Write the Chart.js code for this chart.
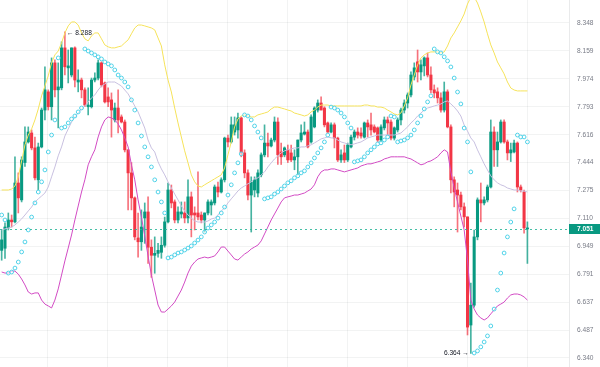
<!DOCTYPE html>
<html><head><meta charset="utf-8">
<script src="https://cdn.jsdelivr.net/npm/chart.js@4.4.1/dist/chart.umd.min.js"></script>
<style>html,body{margin:0;padding:0;background:#fff;overflow:hidden}#wrap{width:600px;height:367px}</style>
</head><body><div id="wrap"><canvas id="c" width="600" height="367"></canvas></div>
<script>
// ---- data (one entry per candle) ----
const openP=[6.926,6.938,7.055,7.101,7.090,7.320,7.219,7.444,7.571,7.627,
7.534,7.339,7.540,7.772,7.889,7.793,8.079,7.902,7.915,8.179,
8.046,7.999,8.179,7.953,7.966,7.902,7.793,7.793,7.966,7.979,
8.079,7.947,7.856,7.837,7.709,7.785,7.728,7.696,7.522,7.381,
7.231,6.997,6.975,7.113,7.148,6.944,6.898,6.909,6.915,6.955,
7.090,7.278,7.207,7.101,7.136,7.142,7.113,7.237,7.142,7.142,
7.130,7.101,7.142,7.189,7.201,7.296,7.266,7.339,7.595,7.571,
7.633,7.646,7.722,7.503,7.381,7.248,7.278,7.260,7.369,7.491,
7.564,7.546,7.583,7.696,7.509,7.491,7.522,7.503,7.460,7.479,
7.583,7.620,7.633,7.571,7.665,7.772,7.817,7.785,7.690,7.633,
7.678,7.595,7.460,7.503,7.460,7.540,7.601,7.633,7.627,7.601,
7.690,7.678,7.665,7.659,7.583,7.659,7.709,7.696,7.595,7.646,
7.709,7.772,7.817,7.869,7.986,8.086,8.019,8.059,8.112,7.999,
7.902,7.889,7.850,7.772,7.889,7.665,7.339,7.278,7.248,7.178,
7.119,6.514,6.621,7.003,7.219,7.201,7.219,7.296,7.633,7.522,
7.571,7.696,7.571,7.503,7.509,7.564,7.296,7.266,7.049];
const highP=[7.043,7.084,7.142,7.130,7.479,7.381,7.479,7.665,7.665,7.646,
7.601,7.564,7.785,8.053,7.902,8.112,8.099,8.079,8.220,8.288,
8.165,8.179,8.186,8.033,7.979,7.915,7.915,7.979,8.013,8.099,
8.086,7.953,7.915,7.882,7.817,7.902,7.741,7.709,7.522,7.444,
7.237,7.142,7.160,7.201,7.237,6.986,7.003,6.966,7.003,7.118,
7.320,7.308,7.219,7.178,7.207,7.207,7.339,7.266,7.178,7.388,
7.148,7.142,7.219,7.219,7.308,7.326,7.351,7.601,7.614,7.728,
7.728,7.753,7.728,7.522,7.400,7.357,7.357,7.400,7.503,7.678,
7.627,7.595,7.728,7.722,7.564,7.540,7.552,7.552,7.522,7.583,
7.678,7.696,7.646,7.741,7.793,7.837,7.856,7.793,7.696,7.690,
7.690,7.601,7.522,7.552,7.564,7.614,7.646,7.659,7.659,7.696,
7.709,7.753,7.678,7.665,7.678,7.728,7.728,7.709,7.665,7.722,
7.785,7.837,7.882,8.019,8.079,8.165,8.099,8.119,8.145,8.053,
7.934,7.915,7.882,7.953,7.902,7.678,7.357,7.320,7.266,7.201,
7.119,6.743,7.043,7.231,7.320,7.237,7.308,7.709,7.665,7.633,
7.709,7.709,7.583,7.564,7.583,7.571,7.308,7.278,7.090];
const lowP=[6.870,6.881,7.043,7.060,7.084,7.142,7.207,7.420,7.564,7.522,
7.339,7.278,7.534,7.709,7.772,7.709,7.856,7.659,7.902,7.999,
7.947,7.986,7.921,7.889,7.850,7.793,7.741,7.785,7.953,7.966,
7.921,7.817,7.793,7.601,7.696,7.627,7.690,7.509,7.160,7.160,
6.986,6.887,6.926,6.966,6.852,6.774,6.797,6.887,6.881,6.944,
7.084,7.172,7.084,7.084,7.113,7.084,7.084,7.003,7.043,7.101,
7.084,7.031,7.130,7.130,7.189,7.237,7.260,7.326,7.540,7.564,
7.614,7.595,7.479,7.351,7.219,7.031,7.237,7.237,7.357,7.479,
7.479,7.540,7.571,7.432,7.432,7.479,7.444,7.450,7.400,7.369,
7.571,7.614,7.534,7.564,7.659,7.759,7.772,7.665,7.627,7.627,
7.534,7.450,7.444,7.444,7.450,7.534,7.583,7.595,7.595,7.595,
7.601,7.614,7.627,7.571,7.571,7.646,7.614,7.583,7.583,7.633,
7.678,7.753,7.785,7.856,7.966,7.953,7.966,7.993,7.986,7.882,
7.850,7.817,7.759,7.759,7.659,7.260,7.178,7.031,7.160,7.060,
6.461,6.364,6.610,6.986,7.090,7.189,7.207,7.290,7.420,7.420,
7.564,7.564,7.460,7.450,7.503,7.266,7.266,7.025,6.852];
const closeP=[6.986,7.060,7.101,7.090,7.320,7.231,7.460,7.571,7.633,7.534,
7.351,7.540,7.772,7.902,7.793,8.079,7.902,7.921,8.179,8.053,
8.059,8.179,7.966,7.966,7.902,7.804,7.804,7.966,7.979,8.079,
7.934,7.824,7.824,7.772,7.785,7.709,7.696,7.522,7.381,7.231,
7.003,6.975,7.060,7.148,6.944,6.898,6.909,6.926,6.955,7.090,
7.278,7.201,7.101,7.148,7.148,7.113,7.237,7.130,7.130,7.119,
7.101,7.142,7.207,7.207,7.296,7.266,7.339,7.595,7.571,7.678,
7.678,7.722,7.503,7.381,7.248,7.326,7.339,7.381,7.491,7.564,
7.546,7.583,7.696,7.491,7.479,7.534,7.460,7.460,7.479,7.583,
7.627,7.633,7.540,7.728,7.785,7.817,7.772,7.678,7.633,7.678,
7.595,7.460,7.491,7.460,7.552,7.601,7.633,7.614,7.608,7.690,
7.665,7.646,7.633,7.583,7.665,7.709,7.690,7.595,7.659,7.709,
7.772,7.817,7.869,7.999,8.046,8.019,8.066,8.112,7.999,7.902,
7.882,7.850,7.772,7.889,7.665,7.339,7.266,7.248,7.178,7.119,
6.503,6.621,7.003,7.219,7.201,7.219,7.296,7.633,7.522,7.571,
7.696,7.571,7.503,7.522,7.564,7.296,7.278,7.055,7.051];
const bbUpper=[7.278,7.278,7.278,7.284,7.302,7.357,7.454,7.553,7.614,7.652,
7.709,7.779,7.863,7.927,7.993,8.079,8.132,8.158,8.213,8.280,
8.328,8.355,8.355,8.334,8.280,8.240,8.226,8.260,8.280,8.280,
8.240,8.199,8.186,8.179,8.179,8.186,8.192,8.213,8.233,8.274,
8.314,8.334,8.334,8.328,8.321,8.314,8.301,8.246,8.192,8.066,
7.966,7.888,7.785,7.690,7.602,7.516,7.442,7.369,7.327,7.302,
7.296,7.309,7.321,7.333,7.345,7.357,7.369,7.411,7.491,7.571,
7.665,7.715,7.734,7.741,7.734,7.728,7.728,7.741,7.747,7.753,
7.760,7.779,7.791,7.791,7.785,7.779,7.772,7.766,7.753,7.747,
7.741,7.734,7.741,7.760,7.772,7.791,7.804,7.804,7.804,7.798,
7.798,7.798,7.798,7.798,7.798,7.798,7.798,7.798,7.798,7.804,
7.804,7.798,7.798,7.791,7.791,7.785,7.772,7.760,7.747,7.741,
7.753,7.798,7.850,7.934,7.999,8.066,8.112,8.132,8.145,8.152,
8.152,8.152,8.145,8.152,8.192,8.246,8.280,8.321,8.362,8.410,
8.479,8.528,8.528,8.486,8.424,8.355,8.274,8.199,8.145,8.085,
8.046,8.006,7.953,7.914,7.901,7.895,7.895,7.895,7.895];
const bbLower=[6.804,6.798,6.798,6.809,6.809,6.792,6.765,6.732,6.693,6.682,
6.688,6.688,6.649,6.627,6.617,6.606,6.649,6.710,6.787,6.866,
6.939,7.014,7.101,7.183,7.266,7.339,7.430,7.479,7.522,7.602,
7.665,7.709,7.728,7.722,7.709,7.684,7.646,7.596,7.540,7.430,
7.339,7.219,7.118,7.008,6.894,6.787,6.704,6.622,6.584,6.584,
6.600,6.617,6.638,6.671,6.704,6.748,6.798,6.837,6.860,6.877,
6.883,6.888,6.883,6.888,6.894,6.917,6.945,6.945,6.922,6.900,
6.877,6.871,6.888,6.905,6.917,6.934,6.945,6.956,6.980,7.020,
7.060,7.101,7.136,7.171,7.207,7.231,7.237,7.242,7.248,7.248,
7.254,7.260,7.272,7.284,7.309,7.357,7.387,7.399,7.399,7.405,
7.405,7.399,7.393,7.387,7.393,7.399,7.405,7.411,7.423,7.430,
7.436,7.436,7.442,7.448,7.454,7.466,7.472,7.479,7.479,7.479,
7.479,7.479,7.472,7.466,7.454,7.442,7.430,7.436,7.448,7.454,
7.466,7.479,7.503,7.522,7.509,7.387,7.290,7.207,7.124,7.043,
6.871,6.649,6.600,6.568,6.552,6.541,6.552,6.574,6.595,6.617,
6.627,6.638,6.660,6.677,6.682,6.682,6.677,6.666,6.649];
const bbMiddle=[7.043,7.049,7.054,7.060,7.072,7.089,7.107,7.130,7.154,7.177,
7.207,7.225,7.242,7.260,7.296,7.357,7.417,7.485,7.540,7.608,
7.652,7.696,7.728,7.753,7.779,7.798,7.824,7.850,7.869,7.901,
7.927,7.940,7.953,7.953,7.953,7.940,7.927,7.901,7.876,7.837,
7.798,7.760,7.709,7.658,7.583,7.534,7.509,7.448,7.405,7.369,
7.327,7.290,7.254,7.219,7.183,7.154,7.130,7.112,7.095,7.089,
7.089,7.089,7.095,7.107,7.112,7.130,7.154,7.171,7.201,7.225,
7.248,7.272,7.290,7.302,7.315,7.327,7.345,7.351,7.369,7.387,
7.417,7.442,7.466,7.485,7.503,7.516,7.522,7.528,7.534,7.534,
7.540,7.540,7.546,7.553,7.565,7.577,7.590,7.596,7.602,7.596,
7.596,7.583,7.571,7.565,7.559,7.553,7.559,7.565,7.571,7.583,
7.596,7.602,7.608,7.614,7.614,7.614,7.614,7.614,7.614,7.620,
7.627,7.646,7.665,7.690,7.709,7.734,7.753,7.772,7.785,7.791,
7.798,7.804,7.811,7.824,7.830,7.811,7.791,7.766,7.734,7.677,
7.639,7.596,7.571,7.522,7.479,7.436,7.399,7.363,7.339,7.321,
7.309,7.302,7.290,7.284,7.278,7.278,7.272,7.272,7.266];
const sarP=[7.130,7.101,6.798,6.804,6.826,6.860,6.917,6.974,7.043,7.118,
7.201,7.266,7.327,7.399,7.509,7.614,7.709,8.112,7.658,7.665,
7.690,7.715,7.734,7.760,7.785,8.172,8.158,8.145,8.132,8.119,
8.105,8.085,8.072,8.059,8.032,7.999,7.979,7.953,7.921,7.837,
7.772,7.690,7.608,7.540,7.479,7.417,7.339,7.266,7.207,7.142,
6.883,6.888,6.900,6.911,6.917,6.928,6.939,6.951,6.968,6.985,
7.003,7.031,7.054,7.072,7.089,7.112,7.142,7.177,7.248,7.309,
7.381,7.442,7.497,7.741,7.734,7.709,7.671,7.633,7.596,7.225,
7.231,7.237,7.254,7.266,7.284,7.302,7.321,7.333,7.351,7.363,
7.381,7.393,7.417,7.442,7.472,7.503,7.534,7.571,7.614,7.791,
7.785,7.772,7.753,7.728,7.690,7.658,7.448,7.454,7.460,7.479,
7.503,7.522,7.540,7.559,7.565,7.583,7.602,7.734,7.728,7.571,
7.577,7.583,7.596,7.614,7.646,7.690,7.734,7.779,7.824,7.863,
8.172,8.152,8.145,8.119,8.092,8.052,7.979,7.888,7.811,7.658,
7.571,7.387,6.366,6.377,6.398,6.424,6.456,6.509,6.600,6.704,
6.798,6.911,7.003,7.089,7.166,7.614,7.602,7.602,7.571];
const yTickValues=[6.340,6.487,6.637,6.791,6.949,7.110,7.275,7.444,7.616,7.793,7.974,8.159,8.348];
const lastPrice=7.051;

// ---- view settings ----
const Y_MIN=6.2933, Y_MAX=8.5071;
const X_MIN=-0.5, X_MAX=170.5;
const GREEN='#089981', RED='#f23645';
const GRID='rgba(42,46,57,0.06)';
const FONT='"Liberation Sans", Arial, sans-serif';

const idx=openP.map((_,i)=>i);
const colors=idx.map(i=>closeP[i]>=openP[i]?GREEN:RED);
const wickColors=idx.map(i=>closeP[i]>=openP[i]?'rgba(8,153,129,0.75)':'rgba(242,54,69,0.7)');
const pts=arr=>idx.map(i=>({x:i,y:arr[i]}));

const overlay={
  id:'overlay',
  afterDatasetsDraw(chart){
    const {ctx,chartArea:a,scales:{x,y}}=chart;
    const py=Math.round(y.getPixelForValue(lastPrice))+0.5;
    ctx.save();
    ctx.strokeStyle='rgba(38,180,150,0.85)';
    ctx.lineWidth=1;ctx.setLineDash([2,3]);
    ctx.beginPath();ctx.moveTo(a.left,py);ctx.lineTo(a.right,py);ctx.stroke();
    ctx.setLineDash([]);
    const hiV=Math.max(...highP), iHi=highP.indexOf(hiV);
    const loV=Math.min(...lowP), iLo=lowP.indexOf(loV);
    ctx.fillStyle='#131722';
    ctx.font='6.6px '+FONT;
    ctx.textBaseline='middle';
    ctx.textAlign='left';
    ctx.fillText('\u2190 '+hiV.toFixed(3),x.getPixelForValue(iHi)+2,y.getPixelForValue(hiV)+1);
    ctx.textAlign='right';
    ctx.fillText(loV.toFixed(3)+' \u2192',x.getPixelForValue(iLo)-2,y.getPixelForValue(loV)-0.5);
    ctx.restore();
  },
  afterDraw(chart){
    const {ctx,chartArea:a,scales:{y}}=chart;
    const py=y.getPixelForValue(lastPrice);
    ctx.save();
    ctx.fillStyle=GREEN;
    ctx.fillRect(a.right,Math.round(py)-5,chart.width-a.right,10);
    ctx.fillStyle='#ffffff';
    ctx.font='bold 6.6px '+FONT;
    ctx.textAlign='left';ctx.textBaseline='middle';
    ctx.fillText(lastPrice.toFixed(3),a.right+8,Math.round(py)+0.5);
    ctx.restore();
  }
};

new Chart(document.getElementById('c'),{
  type:'bar',
  data:{datasets:[
    {type:'line',label:'SAR',data:pts(sarP),showLine:false,pointRadius:1.9,pointHoverRadius:0,pointBorderWidth:1,
     pointBorderColor:'#4fd2e8',pointBackgroundColor:'rgba(255,255,255,0.5)',order:1},
    {type:'line',label:'Upper',data:pts(bbUpper),borderColor:'#f6e35a',borderWidth:1,pointRadius:0,pointHoverRadius:0,tension:0,order:2},
    {type:'line',label:'Lower',data:pts(bbLower),borderColor:'#d24bc4',borderWidth:1,pointRadius:0,pointHoverRadius:0,tension:0,order:2},
    {type:'line',label:'Middle',data:pts(bbMiddle),borderColor:'#c8c0e0',borderWidth:1,pointRadius:0,pointHoverRadius:0,tension:0,order:2},
    {type:'bar',label:'Body',data:idx.map(i=>({x:i,y:[Math.min(openP[i],closeP[i]),Math.max(openP[i],closeP[i])]})),
     backgroundColor:colors,barThickness:2.4,grouped:false,minBarLength:1,order:5},
    {type:'bar',label:'Wick',data:idx.map(i=>({x:i,y:[lowP[i],highP[i]]})),
     backgroundColor:wickColors,barThickness:1,grouped:false,order:6}
  ]},
  options:{
    responsive:false,animation:false,devicePixelRatio:1,
    layout:{padding:0,autoPadding:false},
    plugins:{legend:{display:false},tooltip:{enabled:false},title:{display:false}},
    scales:{
      x:{type:'linear',min:X_MIN,max:X_MAX,offset:false,
        grid:{color:GRID,drawTicks:false},border:{display:false},
        ticks:{display:false},
        afterBuildTicks:s=>{const t=[];for(let v=4.91;v<X_MAX;v+=18.03)t.push({value:v});s.ticks=t;},
        afterFit:s=>{s.height=0;s.paddingLeft=0;s.paddingRight=0;}},
      y:{type:'logarithmic',position:'right',min:Y_MIN,max:Y_MAX,
        grid:{color:GRID,drawTicks:false},
        border:{display:true,color:'rgba(42,46,57,0.10)'},
        ticks:{padding:8,color:'#787b86',font:{family:FONT,size:6.6},callback:v=>Number(v).toFixed(3)},
        afterBuildTicks:s=>{s.ticks=yTickValues.map(v=>({value:v}));},
        afterFit:s=>{s.width=31;s.paddingTop=0;s.paddingBottom=0;}}
    }
  },
  plugins:[overlay]
});
</script></body></html>
